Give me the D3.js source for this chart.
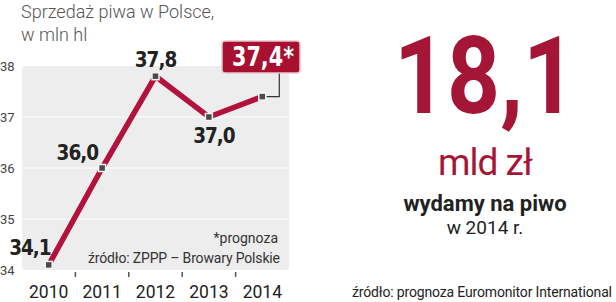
<!DOCTYPE html>
<html>
<head>
<meta charset="utf-8">
<script src="https://cdn.jsdelivr.net/npm/d3@7"></script>
<style>
  body { margin: 0; background: #fff; }
  svg { display: block; }
</style>
</head>
<body>
<div id="chart"></div>
<script>
(function () {
    // data
    var years = ['2010', '2011', '2012', '2013', '2014'];
    var sales = [34.1, 36.0, 37.8, 37.0, 37.4];
    var valueLabels = ['34,1', '36,0', '37,8', '37,0', '37,4*'];
    var yTicks = [34, 35, 36, 37, 38];

    var red = '#b3123d';
    var dark = '#222';

    var svg = d3.select('#chart')
        .append('svg')
        .attr('width', 616)
        .attr('height', 302);

    var x = d3.scaleBand().domain(years).range([22, 289]).padding(0);
    var y = d3.scaleLinear().domain([34, 38]).range([270, 66]);
    var cx = function (d) { return x(d) + x.bandwidth() / 2; };

    // plot background
    svg.append('rect')
        .attr('x', x.range()[0])
        .attr('y', y(38))
        .attr('width', x.range()[1] - x.range()[0])
        .attr('height', y(34) - y(38))
        .attr('rx', 4)
        .attr('fill', '#ededed');

    // white grid lines
    svg.selectAll('.grid')
        .data(yTicks.filter(function (t) { return t > 34 && t < 38; }))
        .enter()
        .append('line')
        .attr('x1', x.range()[0])
        .attr('x2', x.range()[1])
        .attr('y1', function (d) { return y(d); })
        .attr('y2', function (d) { return y(d); })
        .attr('stroke', '#fff')
        .attr('stroke-width', 1.2);

    // y tick labels
    svg.selectAll('.ytick')
        .data(yTicks)
        .enter()
        .append('text')
        .attr('x', 0)
        .attr('y', function (d) { return y(d) + 5; })
        .attr('font-family', 'Roboto')
        .attr('font-size', 13)
        .attr('fill', '#444')
        .text(function (d) { return d; });

    // x axis: small ticks between the years, labels below
    svg.selectAll('.xtick')
        .data(years.slice(1))
        .enter()
        .append('line')
        .attr('x1', function (d) { return x(d); })
        .attr('x2', function (d) { return x(d); })
        .attr('y1', 272)
        .attr('y2', 277)
        .attr('stroke', '#555')
        .attr('stroke-width', 1.5);

    svg.selectAll('.xlabel')
        .data(years)
        .enter()
        .append('text')
        .attr('x', cx)
        .attr('y', 298)
        .attr('text-anchor', 'middle')
        .attr('font-family', 'Roboto')
        .attr('font-size', 17.5)
        .attr('fill', dark)
        .text(function (d) { return d; });

    // title
    var title = svg.append('text')
        .attr('font-family', 'Roboto')
        .attr('font-weight', 300)
        .attr('font-size', 18)
        .attr('fill', '#555');
    title.append('tspan').attr('x', 21).attr('y', 18).text('Sprzedaż piwa w Polsce,');
    title.append('tspan').attr('x', 21).attr('y', 41).text('w mln hl');

    // footnotes inside the plot
    svg.append('text')
        .attr('x', 278).attr('y', 243)
        .attr('text-anchor', 'end')
        .attr('font-family', 'Roboto')
        .attr('font-size', 14)
        .attr('fill', '#333')
        .text('*prognoza');
    svg.append('text')
        .attr('x', 280).attr('y', 263)
        .attr('text-anchor', 'end')
        .attr('font-family', 'Roboto')
        .attr('font-size', 14)
        .attr('fill', '#333')
        .attr('textLength', 192)
        .text('źródło: ZPPP – Browary Polskie');

    var pts = years.map(function (yr, i) {
        return { year: yr, value: sales[i], label: valueLabels[i], i: i };
    });

    // connector from the forecast box to the last point
    var last = pts[pts.length - 1];
    svg.append('path')
        .attr('d', 'M' + (cx(last.year) + 4) + ',' + y(last.value) +
            'H' + (cx(last.year) + 17) + 'V' + 72)
        .attr('fill', 'none')
        .attr('stroke', '#333')
        .attr('stroke-width', 1.2);

    // the line
    var line = d3.line()
        .x(function (d) { return cx(d.year); })
        .y(function (d) { return y(d.value); });

    svg.append('path')
        .datum(pts)
        .attr('d', line)
        .attr('fill', 'none')
        .attr('stroke', red)
        .attr('stroke-width', 5.5)
        .attr('stroke-linejoin', 'miter');

    // square markers
    svg.selectAll('.marker')
        .data(pts)
        .enter()
        .append('rect')
        .attr('x', function (d) { return cx(d.year) - 3.5; })
        .attr('y', function (d) { return y(d.value) - 3.5; })
        .attr('width', 7)
        .attr('height', 7)
        .attr('fill', '#4a4a4a')
        .attr('stroke', '#f4f4f4')
        .attr('stroke-width', 1.5);

    // value labels (offsets per point)
    var offsets = [
        { dx: 2, dy: -10, anchor: 'end' },
        { dx: -4, dy: -8, anchor: 'end' },
        { dx: 0, dy: -9, anchor: 'middle' },
        { dx: 5, dy: 26, anchor: 'middle' }
    ];
    svg.selectAll('.vlabel')
        .data(pts.slice(0, 4))
        .enter()
        .append('text')
        .attr('x', function (d) { return cx(d.year) + offsets[d.i].dx; })
        .attr('y', function (d) { return y(d.value) + offsets[d.i].dy; })
        .attr('text-anchor', function (d) { return offsets[d.i].anchor; })
        .attr('font-family', 'DejaVu Sans Condensed')
        .attr('font-weight', 'bold')
        .attr('font-size', 20.5)
        .attr('letter-spacing', -1)
        .attr('fill', dark)
        .text(function (d) { return d.label; });

    // forecast box
    var box = svg.append('g');
    box.append('rect')
        .attr('x', 222).attr('y', 41)
        .attr('width', 78).attr('height', 32)
        .attr('rx', 3)
        .attr('fill', '#a8102f')
        .attr('stroke', '#e8c8cf')
        .attr('stroke-width', 1.5);
    box.append('text')
        .attr('x', 263).attr('y', 66)
        .attr('text-anchor', 'middle')
        .attr('font-family', 'DejaVu Sans Condensed')
        .attr('font-weight', 'bold')
        .attr('font-size', 27)
        .attr('textLength', 62)
        .attr('lengthAdjust', 'spacingAndGlyphs')
        .attr('fill', '#fff')
        .text(last.label);

    // right panel
    svg.append('text')
        .attr('x', 485).attr('y', 113)
        .attr('text-anchor', 'middle')
        .attr('font-family', 'Roboto')
        .attr('font-weight', 700)
        .attr('font-size', 107)
        .attr('textLength', 182)
        .attr('lengthAdjust', 'spacingAndGlyphs')
        .attr('fill', '#a51535')
        .text('18,1');
    svg.append('text')
        .attr('x', 485).attr('y', 175)
        .attr('text-anchor', 'middle')
        .attr('font-family', 'Roboto')
        .attr('font-size', 37)
        .attr('letter-spacing', -1)
        .attr('fill', '#a51535')
        .text('mld zł');
    svg.append('text')
        .attr('x', 485).attr('y', 211)
        .attr('text-anchor', 'middle')
        .attr('font-family', 'Roboto')
        .attr('font-weight', 700)
        .attr('font-size', 22)
        .attr('fill', dark)
        .text('wydamy na piwo');
    svg.append('text')
        .attr('x', 485).attr('y', 234)
        .attr('text-anchor', 'middle')
        .attr('font-family', 'Roboto')
        .attr('font-size', 19)
        .attr('fill', dark)
        .text('w 2014 r.');
    svg.append('text')
        .attr('x', 612).attr('y', 297)
        .attr('text-anchor', 'end')
        .attr('font-family', 'Roboto')
        .attr('font-size', 14)
        .attr('textLength', 260)
        .attr('fill', dark)
        .text('źródło: prognoza Euromonitor International');
})();
</script>
</body>
</html>
